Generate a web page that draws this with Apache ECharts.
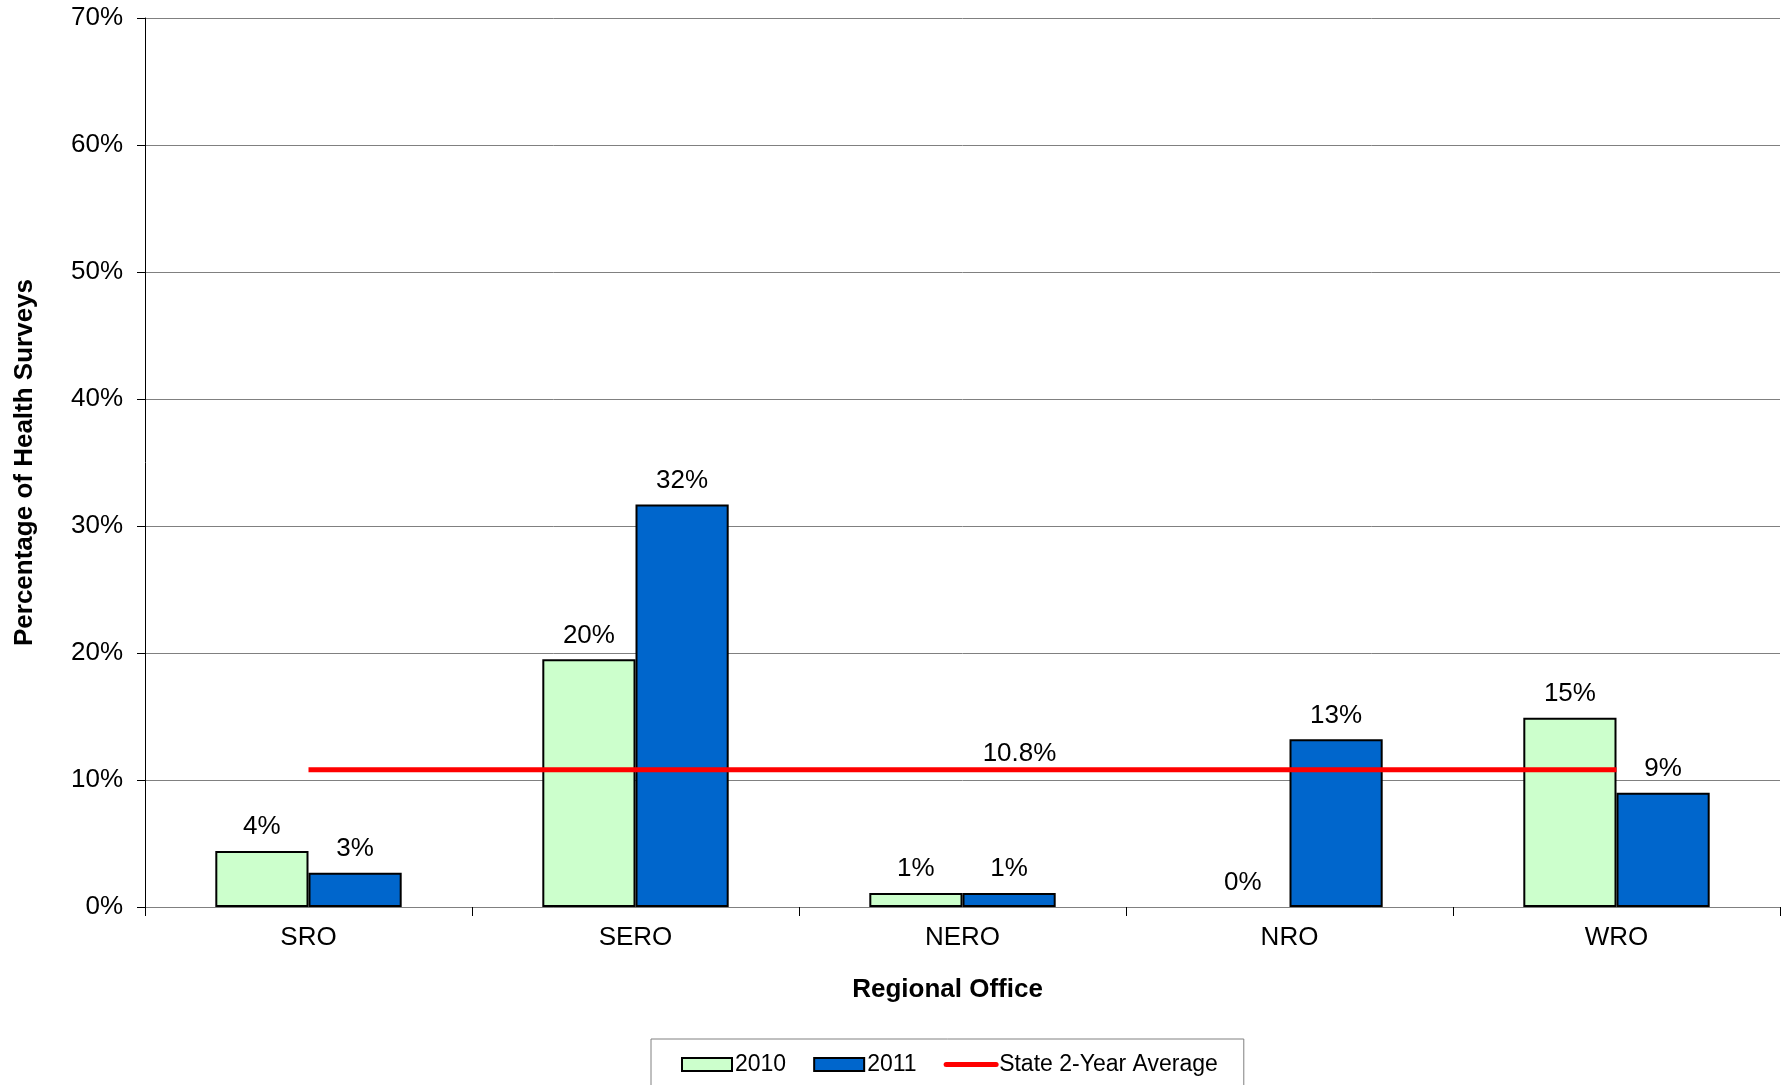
<!DOCTYPE html>
<html>
<head>
<meta charset="utf-8">
<script src="https://cdn.jsdelivr.net/npm/echarts@6/dist/echarts.min.js"></script>
<style>
  html, body { margin: 0; padding: 0; background: #fff; }
  #chart { width: 1789px; height: 1085px; }
</style>
</head>
<body>
<div id="chart"></div>
<script>
// regional offices
var offices = ['SRO', 'SERO', 'NERO', 'NRO', 'WRO'];
// percentage of health surveys
var values2010 = [4.4, 19.5, 1.1, 0, 14.9];
var values2011 = [2.7, 31.7, 1.1, 13.2, 9.0];
// state 2-year average
var stateAvg = [10.8, 10.8, 10.8, 10.8, 10.8];
var avgLabelIndex = 2;
var yTicks = { min: 0, max: 70, step: 10 };

var FONT = '"Liberation Sans", Arial, sans-serif';

var chart = echarts.init(document.getElementById('chart'));

function pctLabel(p) {
  return Math.round(p.value) + '%';
}

// zero height bars get no outline (nothing drawn in the original)
function barItems(arr) {
  return arr.map(function (v) {
    if (v === 0) {
      return { value: v, itemStyle: { borderWidth: 0 } };
    }
    return v;
  });
}

var avgData = stateAvg.map(function (v, i) {
  if (i === avgLabelIndex) {
    return {
      value: v,
      label: {
        show: true,
        position: 'top',
        offset: [57, 2],
        formatter: v.toFixed(1) + '%',
        color: '#000',
        fontSize: 26,
        fontFamily: FONT
      }
    };
  }
  return v;
});

var labelStyle = { show: true, position: 'top', distance: 11, formatter: pctLabel, fontSize: 26, color: '#000', fontFamily: FONT };

var option = {
  animation: false,
  textStyle: { fontFamily: FONT, color: '#000' },
  grid: { left: 145, right: 9, top: 18, bottom: 178, outerBoundsMode: 'none' },
  legend: {
    left: 651,
    top: 1039,
    padding: [14, 26, 30, 30],
    borderColor: '#808080',
    borderWidth: 1,
    itemGap: 27,
    itemWidth: 50,
    itemHeight: 13,
    textStyle: { fontSize: 23, color: '#000', fontFamily: FONT, padding: [0, 0, 0, -2] },
    data: [
      { name: '2010', icon: 'rect' },
      { name: '2011', icon: 'rect' },
      { name: 'State 2-Year Average', itemStyle: { opacity: 0 }, lineStyle: { width: 5, cap: 'round' } }
    ]
  },
  xAxis: {
    type: 'category',
    data: offices,
    name: 'Regional Office',
    nameLocation: 'middle',
    nameGap: 70,
    nameTextStyle: { fontSize: 26, fontWeight: 'bold', color: '#000', fontFamily: FONT, padding: [0, 30, 0, 0] },
    axisLine: { lineStyle: { color: '#808080', width: 1 } },
    axisTick: { show: true, length: 9, lineStyle: { color: '#000' } },
    axisLabel: { fontSize: 26, color: '#000', margin: 18, fontFamily: FONT }
  },
  yAxis: {
    type: 'value',
    min: yTicks.min,
    max: yTicks.max,
    interval: yTicks.step,
    name: 'Percentage of Health Surveys',
    nameLocation: 'middle',
    nameGap: 107,
    nameRotate: 90,
    nameTextStyle: { fontSize: 26, fontWeight: 'bold', color: '#000', fontFamily: FONT },
    axisLine: { show: true, lineStyle: { color: '#000', width: 1 } },
    axisTick: { show: true, length: 8, lineStyle: { color: '#000' } },
    axisLabel: { fontSize: 26, color: '#000', margin: 22, formatter: '{value}%', fontFamily: FONT },
    splitLine: { show: true, lineStyle: { color: '#808080', width: 1 } }
  },
  series: [
    {
      name: '2010',
      type: 'bar',
      data: barItems(values2010),
      barGap: '0%',
      barCategoryGap: '43%',
      itemStyle: { color: '#CCFFCC', borderColor: '#000', borderWidth: 2 },
      label: labelStyle
    },
    {
      name: '2011',
      type: 'bar',
      data: barItems(values2011),
      itemStyle: { color: '#0066CC', borderColor: '#000', borderWidth: 2 },
      label: labelStyle
    },
    {
      name: 'State 2-Year Average',
      type: 'line',
      data: avgData,
      symbol: 'circle',
      symbolSize: 0,
      showAllSymbol: true,
      z: 5,
      lineStyle: { color: '#FF0000', width: 5 },
      itemStyle: { color: '#FF0000' }
    }
  ]
};

chart.setOption(option);
</script>
</body>
</html>
